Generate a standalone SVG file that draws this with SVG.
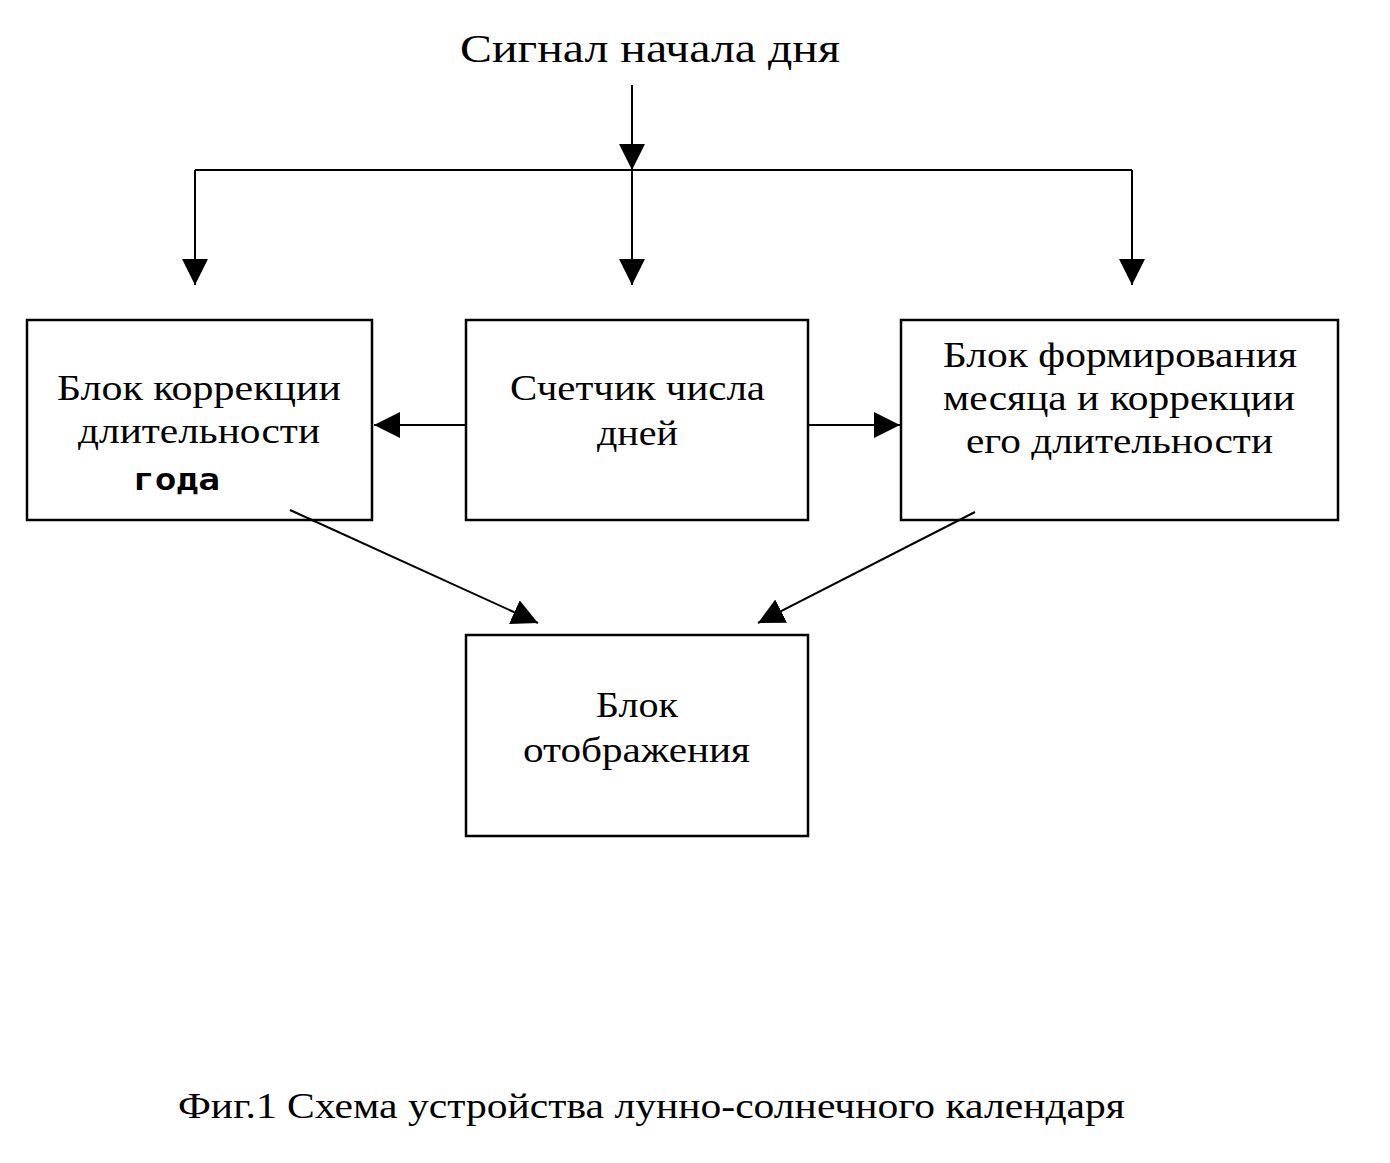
<svg xmlns="http://www.w3.org/2000/svg" width="1390" height="1163" viewBox="0 0 1390 1163">
<style>
.t{font-family:"Liberation Serif",serif;font-size:36px;fill:#000}
.b{fill:none;stroke:#000;stroke-width:2.5}
.l{stroke:#000;stroke-width:2;fill:none}
</style>
<defs>
<marker id="a" viewBox="0 0 10 10" refX="10" refY="5" markerWidth="26" markerHeight="26" markerUnits="userSpaceOnUse" orient="auto"><path d="M0,0L10,5L0,10z" fill="#000"/></marker>
</defs>
<rect width="1390" height="1163" fill="#fff"/>
<text class="t" x="460" y="62" textLength="380" lengthAdjust="spacingAndGlyphs" style="font-size:41px">Сигнал начала дня</text>
<g id="connectors">
<line class="l" x1="632" y1="85" x2="632" y2="170" marker-end="url(#a)"/>
<line class="l" x1="195" y1="170" x2="1132" y2="170"/>
<line class="l" x1="195" y1="170" x2="195" y2="285" marker-end="url(#a)"/>
<line class="l" x1="632" y1="170" x2="632" y2="285" marker-end="url(#a)"/>
<line class="l" x1="1132" y1="170" x2="1132" y2="285" marker-end="url(#a)"/>
<line class="l" x1="466" y1="425" x2="374" y2="425" marker-end="url(#a)"/>
<line class="l" x1="808" y1="425" x2="900" y2="425" marker-end="url(#a)"/>
<line class="l" x1="290" y1="510" x2="538" y2="623" marker-end="url(#a)"/>
<line class="l" x1="975" y1="512" x2="758" y2="623" marker-end="url(#a)"/>
</g>
<g id="left"><rect class="b" x="27" y="320" width="345" height="200"/>
<text class="t" x="57" y="400" textLength="284" lengthAdjust="spacingAndGlyphs">Блок коррекции</text>
<text class="t" x="78" y="443" textLength="242" lengthAdjust="spacingAndGlyphs">длительности</text>
<text x="133" y="490" textLength="87" lengthAdjust="spacingAndGlyphs" style="font-family:'DejaVu Sans Mono',monospace;font-size:30px;font-weight:bold">года</text></g>
<g id="center"><rect class="b" x="466" y="320" width="342" height="200"/>
<text class="t" x="510" y="400" textLength="255" lengthAdjust="spacingAndGlyphs">Счетчик числа</text>
<text class="t" x="597" y="445" textLength="81" lengthAdjust="spacingAndGlyphs">дней</text></g>
<g id="right"><rect class="b" x="901" y="320" width="437" height="200"/>
<text class="t" x="943" y="367" textLength="354" lengthAdjust="spacingAndGlyphs">Блок формирования</text>
<text class="t" x="943" y="410" textLength="352" lengthAdjust="spacingAndGlyphs">месяца и коррекции</text>
<text class="t" x="966" y="453" textLength="307" lengthAdjust="spacingAndGlyphs">его длительности</text></g>
<g id="bottom"><rect class="b" x="466" y="635" width="342" height="201"/>
<text class="t" x="596" y="717" textLength="82" lengthAdjust="spacingAndGlyphs">Блок</text>
<text class="t" x="523" y="762" textLength="227" lengthAdjust="spacingAndGlyphs">отображения</text></g>
<text class="t" x="178" y="1118" textLength="947" lengthAdjust="spacingAndGlyphs">Фиг.1 Схема устройства лунно-солнечного календаря</text>
</svg>
